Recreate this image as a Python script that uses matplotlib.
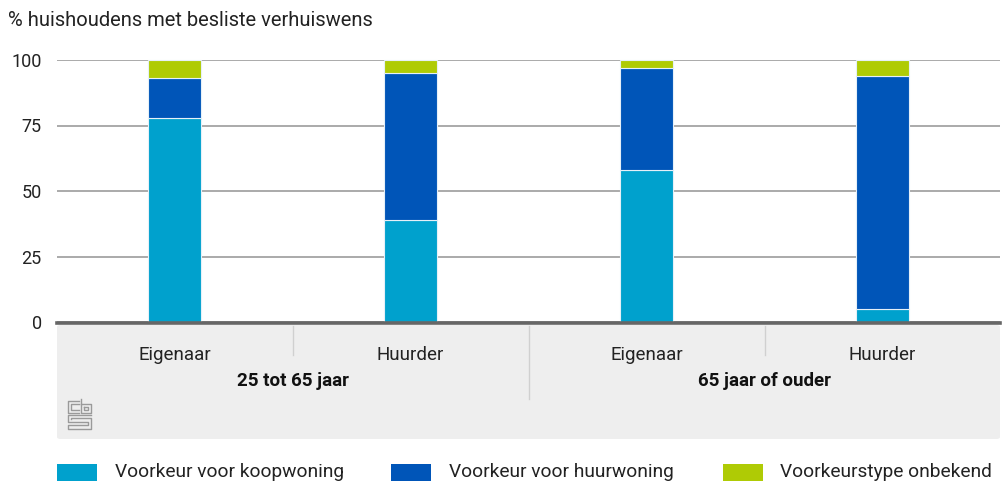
import matplotlib
matplotlib.use("Agg")
import matplotlib.pyplot as plt
from matplotlib.patches import Rectangle, FancyBboxPatch
from matplotlib.lines import Line2D
import numpy as np

categories = ["Eigenaar", "Huurder", "Eigenaar", "Huurder"]
groups = ["25 tot 65 jaar", "65 jaar of ouder"]
koop = [78, 39, 58, 5]
huur = [15, 56, 39, 89]
onbekend = [7, 5, 3, 6]
series_names = ["Voorkeur voor koopwoning", "Voorkeur voor huurwoning", "Voorkeurstype onbekend"]
colors = ["#00a1cd", "#0055b8", "#afcb05"]
yticks = [0, 25, 50, 75, 100]
ylabel = "% huishoudens met besliste verhuiswens"

plt.rcParams['font.family'] = ['Roboto', 'DejaVu Sans']

W, H = 1002, 483
fig = plt.figure(figsize=(W / 100, H / 100), dpi=100)

def fx(x):
    return x / W

def fy(y):
    return 1 - y / H

ax_left, ax_right, ax_top, ax_bot = 57, 1000, 60, 322
ax = fig.add_axes([fx(ax_left), fy(ax_bot), fx(ax_right - ax_left), (ax_bot - ax_top) / H])

x = np.arange(len(categories))
bw = 0.225
bottom = np.zeros(len(categories))
for vals, col in zip([koop, huur, onbekend], colors):
    ax.bar(x, vals, bw, bottom=bottom, color=col, edgecolor="#e6f0f8", linewidth=0.8, zorder=3, clip_on=False)
    bottom += np.array(vals)

ax.set_xlim(-0.5, len(categories) - 0.5)
ax.set_ylim(0, 100)
ax.set_yticks(yticks)
ax.yaxis.grid(True, color="#aaaaaa", linewidth=1.4, zorder=0)
ax.set_axisbelow(True)
for s in ax.spines.values():
    s.set_visible(False)
ax.tick_params(axis="y", length=0, pad=11, labelsize=13, labelcolor="#222222")
ax.set_xticks([])
for lbl in ax.get_yticklabels():
    lbl.set_clip_on(False)

# axis base line
fig.add_artist(Line2D([fx(ax_left), fx(ax_right)], [fy(323.3), fy(323.3)], color="#666666", linewidth=2.6))

# grey category panel
panel = FancyBboxPatch((fx(57), fy(439)), fx(1000 - 57), (439 - 325) / H,
                       boxstyle="round,pad=0,rounding_size=0.004", transform=fig.transFigure,
                       facecolor="#eeeeee", edgecolor="none", zorder=0)
fig.add_artist(panel)

# separators
for xs, yend in [(293, 355), (529, 399), (765, 355)]:
    fig.add_artist(Line2D([fx(xs), fx(xs)], [fy(326), fy(yend)], color="#d0d0d0", linewidth=1.0))

# category labels via data->figure transform
for i, c in enumerate(categories):
    xd = ax.transData.transform((x[i], 0))[0] / fig.bbox.width
    fig.text(xd, fy(355), c, ha="center", va="center", fontsize=13.5, color="#222222")
for g, gi in enumerate([(0, 1), (2, 3)]):
    xc = (ax.transData.transform((x[gi[0]], 0))[0] + ax.transData.transform((x[gi[1]], 0))[0]) / 2 / fig.bbox.width
    fig.text(xc, fy(381), groups[g], ha="center", va="center", fontsize=13.5, fontweight="bold", color="#111111")

# y label
fig.text(fx(8), fy(20), ylabel, ha="left", va="center", fontsize=14.5, color="#222222")

# cbs logo (simple line art)
lc = "#9a9a9a"
lw = 1.0
def seg(pts):
    xs = [fx(p[0]) for p in pts]
    ys = [fy(p[1]) for p in pts]
    fig.add_artist(Line2D(xs, ys, color=lc, linewidth=lw))
seg([(79, 401), (68, 401), (68, 413), (79, 413)])
seg([(79, 404), (71, 404), (71, 410), (79, 410)])
seg([(81, 399), (81, 413), (91, 413), (91, 404), (81, 404)])
seg([(84, 407), (88, 407), (88, 410), (84, 410), (84, 407)])
seg([(91, 415), (68, 415), (68, 422), (88, 422), (88, 425), (68, 425), (68, 429), (91, 429), (91, 418), (71, 418), (71, 419)])

# legend
leg = [(57, 115), (391, 449), (723, 780)]
for (sx, tx), name, col in zip(leg, series_names, colors):
    fig.add_artist(Rectangle((fx(sx), fy(481)), fx(40), 17 / H, transform=fig.transFigure,
                             facecolor=col, edgecolor="none"))
    fig.text(fx(tx), fy(472), name, ha="left", va="center", fontsize=13.8, color="#222222")

fig.savefig("out.png", dpi=100)
